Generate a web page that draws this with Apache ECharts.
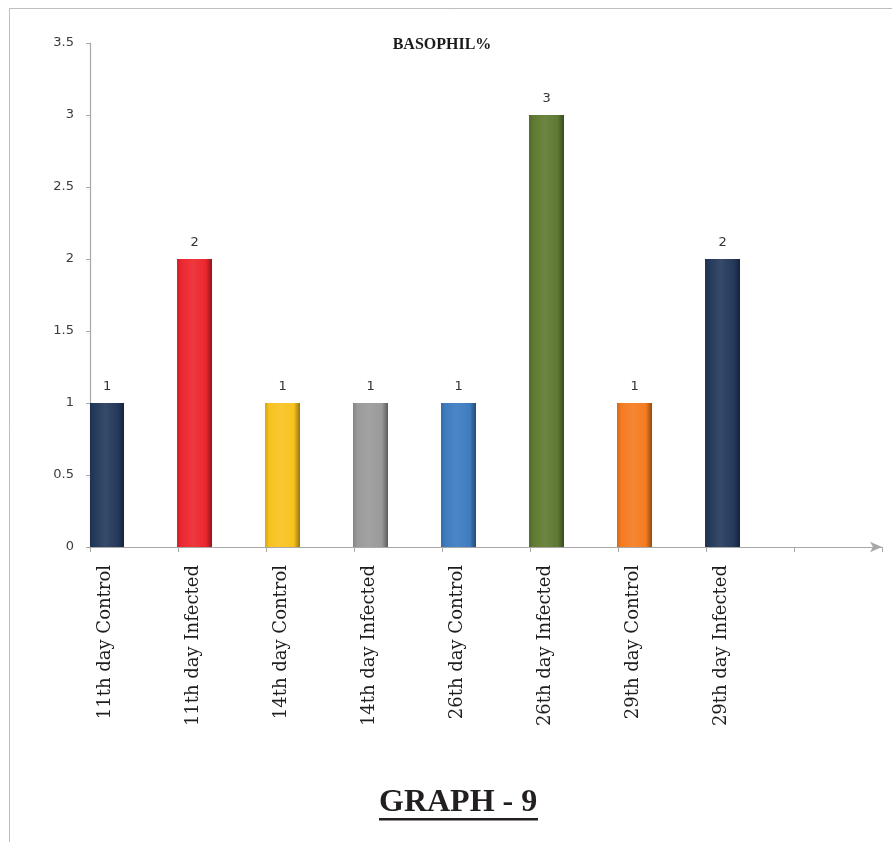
<!DOCTYPE html>
<html>
<head>
<meta charset="utf-8">
<script src="https://cdn.jsdelivr.net/npm/echarts@6/dist/echarts.min.js"></script>
<style>
  html, body { margin: 0; padding: 0; background: #ffffff; }
  #chart { width: 892px; height: 842px; }
</style>
</head>
<body>
<div id="chart"></div>
<script>
// Basophil percentage per sampling day and group
const categories = [
  '11th day Control', '11th day Infected',
  '14th day Control', '14th day Infected',
  '26th day Control', '26th day Infected',
  '29th day Control', '29th day Infected',
  ''
];
const basophilValues = [1, 2, 1, 1, 1, 3, 1, 2];
const barColors = [
  '#243a5c', '#ec272e', '#f8c21f', '#9b9a9b',
  '#3e7cc0', '#5f7a31', '#f57b21', '#243a5c'
];
const yTicks = { min: 0, max: 3.5, step: 0.5 };

function mix(hex, target, t) {
  const n = parseInt(hex.slice(1), 16);
  const r = (n >> 16) & 255, g = (n >> 8) & 255, b = n & 255;
  const f = v => Math.round(v + (target - v) * t);
  return 'rgb(' + f(r) + ',' + f(g) + ',' + f(b) + ')';
}

// horizontal shading so each column looks slightly rounded
function bevel(c) {
  return new echarts.graphic.LinearGradient(0, 0, 1, 0, [
    { offset: 0, color: mix(c, 0, 0.15) },
    { offset: 0.12, color: c },
    { offset: 0.45, color: mix(c, 255, 0.08) },
    { offset: 0.82, color: c },
    { offset: 1, color: mix(c, 0, 0.4) }
  ]);
}

const barData = basophilValues.map((v, i) => ({
  value: v,
  itemStyle: { color: bevel(barColors[i]) }
}));
const spacerData = categories.map(() => null);

const chart = echarts.init(document.getElementById('chart'), null, { renderer: 'canvas' });

chart.setOption({
  backgroundColor: '#ffffff',
  animation: false,
  title: {
    text: 'BASOPHIL%',
    left: 437,
    textAlign: 'center',
    top: 32,
    textStyle: {
      fontFamily: 'Liberation Serif',
      fontWeight: 'bold',
      fontSize: 16,
      color: '#1a1a1a'
    }
  },
  grid: [
    { left: 90, top: 43, width: 792, height: 504 },
    { left: 61, top: 43, width: 792, height: 504 }
  ],
  xAxis: [
    {
      type: 'category',
      gridIndex: 0,
      data: categories,
      boundaryGap: true,
      axisLine: {
        show: true,
        symbol: ['none', 'arrow'],
        symbolSize: [8, 12],
        lineStyle: { color: '#a8a8a8', width: 1.2 }
      },
      axisTick: { show: true, interval: 0, length: 5, lineStyle: { color: '#a8a8a8' } },
      axisLabel: { show: false },
      splitLine: { show: false }
    },
    {
      type: 'category',
      gridIndex: 1,
      data: categories,
      boundaryGap: true,
      axisLine: { show: false },
      axisTick: { show: false },
      splitLine: { show: false },
      axisLabel: {
        interval: 0,
        rotate: 90,
        margin: 18,
        fontFamily: 'DejaVu Serif',
        fontSize: 18,
        color: '#1e1e1e'
      }
    }
  ],
  yAxis: [
    {
      type: 'value',
      gridIndex: 0,
      min: yTicks.min,
      max: yTicks.max,
      interval: yTicks.step,
      axisLine: { show: true, lineStyle: { color: '#a8a8a8', width: 1.2 } },
      axisTick: { show: true, length: 4, lineStyle: { color: '#a8a8a8' } },
      splitLine: { show: false },
      axisLabel: {
        margin: 16,
        fontFamily: 'DejaVu Sans',
        fontSize: 13,
        color: '#3c3c3c'
      }
    },
    {
      type: 'value',
      gridIndex: 1,
      min: 0,
      max: 1,
      show: false
    }
  ],
  series: [
    {
      name: 'Basophil %',
      type: 'bar',
      xAxisIndex: 0,
      yAxisIndex: 0,
      data: barData,
      barWidth: 35,
      barGap: '57%',
      label: {
        show: true,
        position: 'top',
        distance: 10,
        fontFamily: 'DejaVu Sans',
        fontSize: 13,
        color: '#333333'
      }
    },
    {
      name: 'spacer',
      type: 'bar',
      xAxisIndex: 0,
      yAxisIndex: 0,
      data: spacerData,
      barWidth: 35,
      barGap: '57%',
      silent: true
    }
  ],
  graphic: [
    {
      type: 'line',
      shape: { x1: 9.5, y1: 8.5, x2: 892, y2: 8.5 },
      style: { stroke: '#bdbdbd', lineWidth: 1 }
    },
    {
      type: 'line',
      shape: { x1: 9.5, y1: 8.5, x2: 9.5, y2: 842 },
      style: { stroke: '#bdbdbd', lineWidth: 1 }
    },
    {
      type: 'text',
      left: 379,
      top: 787,
      style: {
        text: 'GRAPH - 9',
        fontFamily: 'Liberation Serif',
        fontWeight: 'bold',
        fontSize: 32,
        fill: '#231f20'
      }
    },
    {
      type: 'rect',
      shape: { x: 379, y: 818, width: 159, height: 2.5 },
      style: { fill: '#231f20' }
    }
  ]
});
</script>
</body>
</html>
